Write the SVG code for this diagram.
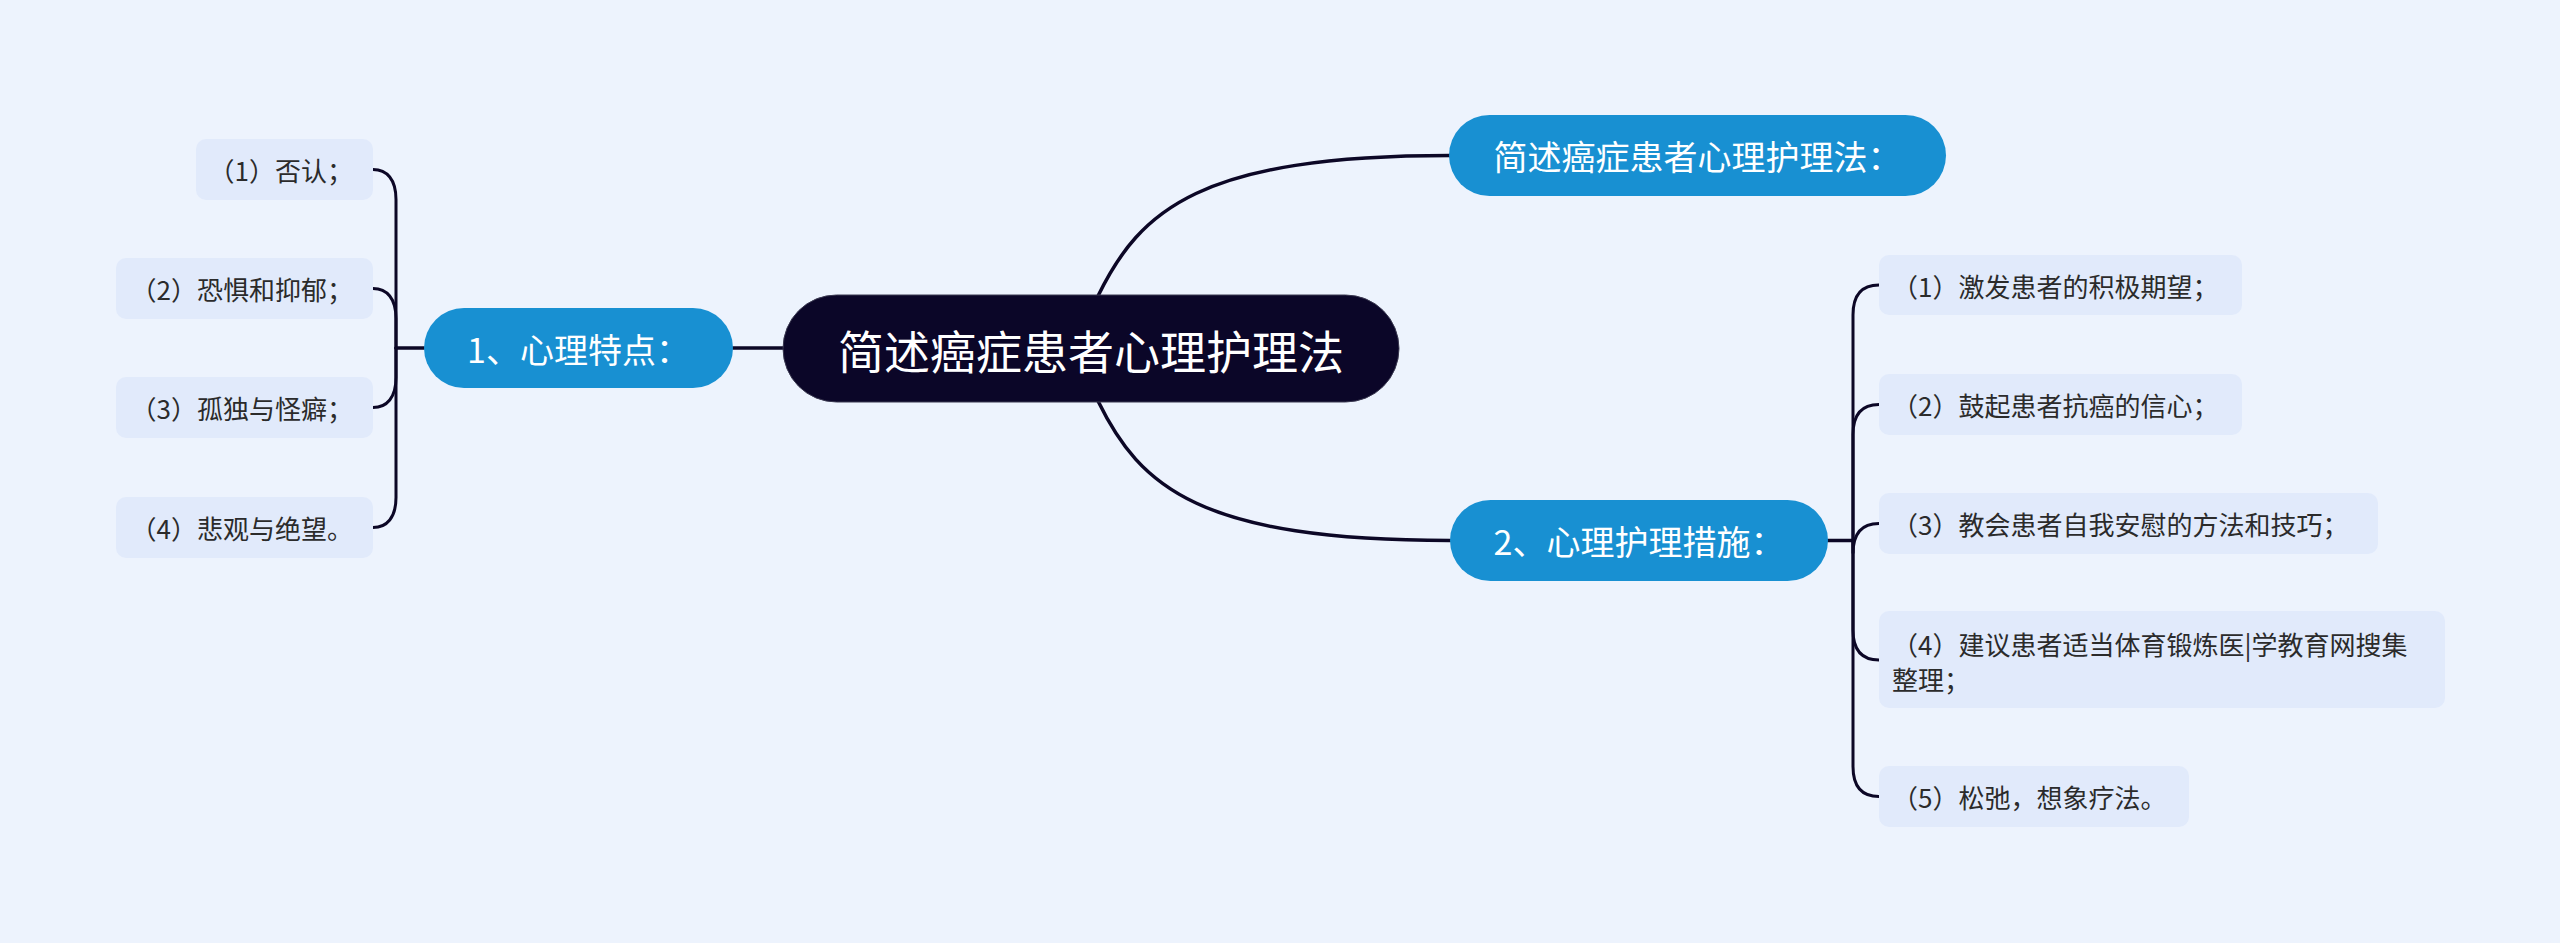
<svg xmlns="http://www.w3.org/2000/svg" width="2560" height="943" viewBox="0 0 2560 943">
<style>
.bg{fill:#edf3fd}
.leaf rect{fill:#e1eafb}
.leaf text{font-family:"Noto Sans CJK SC","Noto Sans",sans-serif;font-size:26px;fill:#2b2b2b;dominant-baseline:central}
.branch rect{fill:#1890d2}
.branch text{font-family:"Noto Sans CJK SC","Noto Sans",sans-serif;font-size:34px;fill:#ffffff;dominant-baseline:central;text-anchor:middle}
.root rect{fill:#0b0628;stroke:#3a3850;stroke-width:1}
.root text{font-family:"Noto Sans CJK SC","Noto Sans",sans-serif;font-size:46px;fill:#ffffff;dominant-baseline:central;text-anchor:middle}
.edges path{fill:none;stroke:#0c0726;stroke-width:3;stroke-linecap:round}
.edges .main{stroke-width:3.5}
</style>
<rect class="bg" x="0" y="0" width="2560" height="943"/>

<g class="edges" id="connectors">
  <path class="main" d="M1098 296 C1140 210 1200 155.5 1450 155.5"/>
  <path class="main" d="M1098 401 C1140 487 1200 540.5 1450 540.5"/>
  <path class="main" d="M733 348 H784"/>
  <path class="main" d="M424 348 H396"/>
  <path class="main" d="M1828 540.5 H1853"/>
  <path d="M396 348 V199.5 C396 179.5 387 169.5 373 169.5"/>
  <path d="M396 348 V318.5 C396 298.5 387 288.5 373 288.5"/>
  <path d="M396 348 V377.5 C396 397.5 387 407.5 373 407.5"/>
  <path d="M396 348 V497.5 C396 517.5 387 527.5 373 527.5"/>
  <path d="M1853 540.5 V315 C1853 295 1862 285 1879 285"/>
  <path d="M1853 540.5 V434.5 C1853 414.5 1862 404.5 1879 404.5"/>
  <path d="M1853 540.5 V553.5 C1853 533.5 1862 523.5 1879 523.5"/>
  <path d="M1853 540.5 V630 C1853 650 1862 660 1879 660"/>
  <path d="M1853 540.5 V766.5 C1853 786.5 1862 796.5 1879 796.5"/>
</g>

<g class="root" id="root">
  <rect x="783" y="295" width="616" height="107" rx="53.5"/>
  <text x="1091" y="348.5">简述癌症患者心理护理法</text>
</g>

<g class="branch" id="b-top">
  <rect x="1449" y="115" width="497" height="81" rx="40.5"/>
  <text x="1697.5" y="155.5">简述癌症患者心理护理法：</text>
</g>
<g class="branch" id="b-1">
  <rect x="424" y="308" width="309" height="80" rx="40"/>
  <text x="578.5" y="348">1、心理特点：</text>
</g>
<g class="branch" id="b-2">
  <rect x="1450" y="500" width="378" height="81" rx="40.5"/>
  <text x="1639" y="540.5">2、心理护理措施：</text>
</g>

<g class="leaf" id="l1-1">
  <rect x="196" y="139" width="177" height="61" rx="10"/>
  <text x="353" y="169.5" text-anchor="end">（1）否认；</text>
</g>
<g class="leaf" id="l1-2">
  <rect x="116" y="258" width="257" height="61" rx="10"/>
  <text x="353" y="288.5" text-anchor="end">（2）恐惧和抑郁；</text>
</g>
<g class="leaf" id="l1-3">
  <rect x="116" y="377" width="257" height="61" rx="10"/>
  <text x="353" y="407.5" text-anchor="end">（3）孤独与怪癖；</text>
</g>
<g class="leaf" id="l1-4">
  <rect x="116" y="497" width="257" height="61" rx="10"/>
  <text x="353" y="527.5" text-anchor="end">（4）悲观与绝望。</text>
</g>

<g class="leaf" id="l2-1">
  <rect x="1879" y="255" width="363" height="60" rx="10"/>
  <text x="1892" y="285">（1）激发患者的积极期望；</text>
</g>
<g class="leaf" id="l2-2">
  <rect x="1879" y="374" width="363" height="61" rx="10"/>
  <text x="1892" y="404.5">（2）鼓起患者抗癌的信心；</text>
</g>
<g class="leaf" id="l2-3">
  <rect x="1879" y="493" width="499" height="61" rx="10"/>
  <text x="1892" y="523.5">（3）教会患者自我安慰的方法和技巧；</text>
</g>
<g class="leaf" id="l2-4">
  <rect x="1879" y="611" width="566" height="97" rx="10"/>
  <text x="1892" y="643">（4）建议患者适当体育锻炼医|学教育网搜集</text>
  <text x="1892" y="678">整理；</text>
</g>
<g class="leaf" id="l2-5">
  <rect x="1879" y="766" width="310" height="61" rx="10"/>
  <text x="1892" y="796.5">（5）松弛，想象疗法。</text>
</g>
</svg>
